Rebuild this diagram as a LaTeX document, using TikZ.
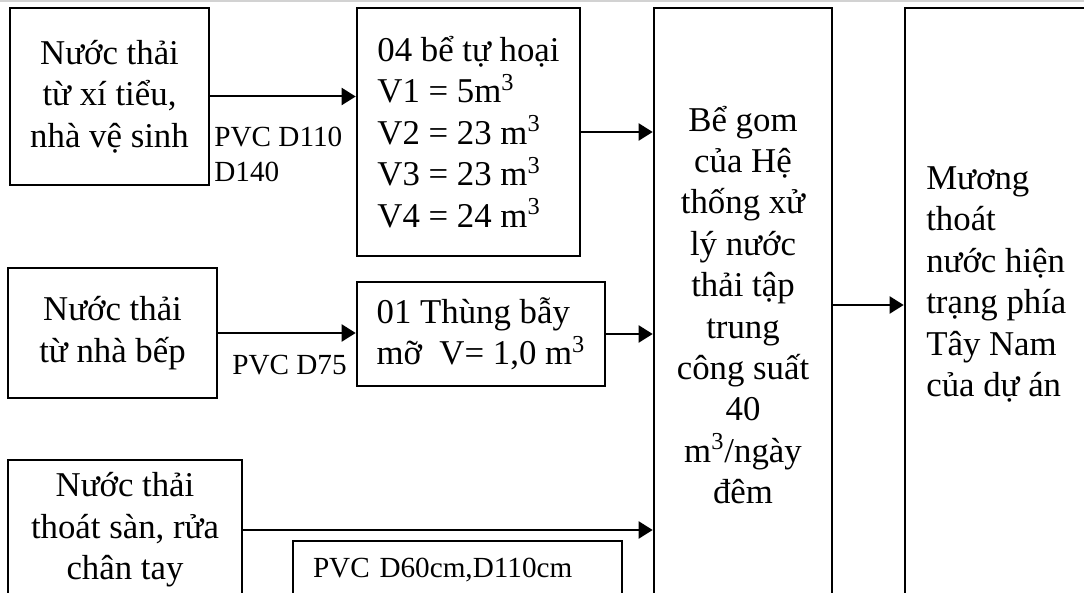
\documentclass[tikz,border=0pt]{standalone}
\usepackage{fontspec}
\setmainfont{Liberation Serif}
\usetikzlibrary{positioning,arrows.meta}

\begin{document}
\begin{tikzpicture}[x=0.5pt, y=-0.5pt,
  box/.style={draw, line width=1.3pt, inner sep=0pt, font=\fontsize{17.4}{20.7}\selectfont},
  pipe/.style={inner sep=0pt, align=left, font=\fontsize{14.6}{17.5}\selectfont},
  flow/.style={-{Triangle[length=7pt,width=8.5pt]}, line width=1pt},
  ]
  \useasboundingbox (0,0) rectangle (1084,593);
  \fill[white] (0,0) rectangle (1084,593);
  \clip (0,0) rectangle (1084,593);
  \draw[gray!35, line width=0.8pt] (0,1) -- (1084,1);

  \node[box, minimum width=99.5pt, minimum height=88.5pt, align=center] (wc) at (109.5,96.5) {Nước thải\\từ xí tiểu,\\nhà vệ sinh};
  \node[box, minimum width=111.5pt, minimum height=124pt, align=left] (tank) at (468.5,132) {04 bể tự hoại\\V1 = 5m\textsuperscript{3}\\V2 = 23 m\textsuperscript{3}\\V3 = 23 m\textsuperscript{3}\\V4 = 24 m\textsuperscript{3}};
  \node[box, minimum width=104.5pt, minimum height=65pt, align=center] (kitchen) at (112.5,333) {Nước thải\\từ nhà bếp};
  \node[box, minimum width=124pt, minimum height=52pt, align=left] (grease) at (481,334) {01 Thùng bẫy\\mỡ~ V= 1,0 m\textsuperscript{3}};
  \node[box, minimum width=117pt, minimum height=70pt, align=center] (floor) at (125,530) {Nước thải\\thoát sàn, rửa\\chân tay};
  \node[box, pipe, draw, line width=1.3pt, minimum width=164.5pt, minimum height=29pt, text width=144.5pt] (d60) at (457.5,570) {PVC D60cm,D110cm};
  \node[box, minimum width=89pt, minimum height=297pt, align=center] (sump) at (743,305) {Bể gom\\của Hệ\\thống xử\\lý nước\\thải tập\\trung\\công suất\\40\\m\textsuperscript{3}/ngày\\đêm};
  \node[box, minimum width=100pt, minimum height=300pt, anchor=north west] (ditch) at (903.7,6.7) {};
  \node[box, draw=none, align=left, anchor=west] (ditchtext) at (925,284.5) {Mương\\thoát\\nước hiện\\trạng phía\\Tây Nam\\của dự án};

  \node[pipe, anchor=west] (d110) at (214,154.5) {PVC D110\\D140};
  \node[pipe] (d75) at (289.5,365) {PVC D75};

  \draw[flow] (wc.east) -- (wc.east -| tank.west);
  \draw[flow] (tank.east) -- (tank.east -| sump.west);
  \draw[flow] (kitchen.east) -- (kitchen.east -| grease.west);
  \draw[flow] (grease.east) -- (grease.east -| sump.west);
  \draw[flow] (floor.east) -- (floor.east -| sump.west);
  \draw[flow] (sump.east) -- (sump.east -| ditch.west);
\end{tikzpicture}
\end{document}
